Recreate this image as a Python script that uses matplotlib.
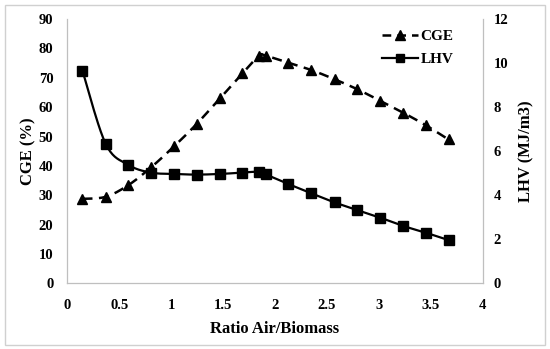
import numpy as np
import matplotlib
matplotlib.use("Agg")
import matplotlib.pyplot as plt
from matplotlib.patches import Rectangle
from matplotlib.lines import Line2D

ratio = [0.146, 0.370, 0.589, 0.806, 1.032, 1.246, 1.470, 1.687, 1.846, 1.910,
         2.130, 2.351, 2.573, 2.792, 3.011, 3.235, 3.454, 3.671]
cge = [28.8, 29.5, 33.5, 39.5, 46.8, 54.3, 63.0, 71.5, 77.5, 77.5,
       75.1, 72.6, 69.5, 66.1, 62.2, 58.1, 53.8, 49.0]
lhv = [9.65, 6.33, 5.38, 5.03, 4.97, 4.94, 4.97, 5.03, 5.07, 4.95,
       4.51, 4.09, 3.68, 3.33, 2.99, 2.61, 2.30, 1.97]

x_ticks = [0, 0.5, 1, 1.5, 2, 2.5, 3, 3.5, 4]
x_tick_labels = ["0", "0.5", "1", "1.5", "2", "2.5", "3", "3.5", "4"]
left_ticks = [0, 10, 20, 30, 40, 50, 60, 70, 80, 90]
right_ticks = [0, 2, 4, 6, 8, 10, 12]


def smooth(x, y, n=20):
    x = np.asarray(x, float); y = np.asarray(y, float)
    P = np.column_stack([x, y])
    P = np.vstack([P[0], P, P[-1]])
    out = []
    for i in range(1, len(P) - 2):
        p0, p1, p2, p3 = P[i - 1], P[i], P[i + 1], P[i + 2]
        t = np.linspace(0, 1, n, endpoint=False)[:, None]
        c = 0.5 * ((2 * p1) + (-p0 + p2) * t + (2 * p0 - 5 * p1 + 4 * p2 - p3) * t ** 2
                   + (-p0 + 3 * p1 - 3 * p2 + p3) * t ** 3)
        out.append(c)
    out.append(P[-2][None, :])
    out = np.vstack(out)
    return out[:, 0], out[:, 1]


plt.rcParams['font.family'] = ['Liberation Serif', 'DejaVu Serif']
plt.rcParams['font.weight'] = 'bold'

fig = plt.figure(figsize=(5.5, 3.49), dpi=100)
fig.patches.append(Rectangle((5 / 550, 4 / 349), 540 / 550, 340 / 349, transform=fig.transFigure,
                             fill=False, edgecolor='#d0d0d0', linewidth=1.0))
ax = fig.add_axes([0.1224, 0.1877, 0.7552, 0.7579])
ax2 = ax.twinx()

spine_c = '#bfbfbf'
for a in (ax, ax2):
    a.spines['top'].set_visible(False)
    for s in ('left', 'bottom', 'right'):
        a.spines[s].set_color(spine_c)
        a.spines[s].set_linewidth(0.9)
    a.tick_params(length=0, labelsize=10.5)
ax.spines['right'].set_visible(False)
ax2.spines['left'].set_visible(False)
ax2.spines['bottom'].set_visible(False)
ax.tick_params(axis='y', pad=10)
ax.tick_params(axis='x', pad=11)
ax2.tick_params(axis='y', pad=8)

sx, sy = smooth(ratio, cge)
ax.plot(sx, sy, color='black', lw=1.8, ls=(0, (4, 2.6)))
ax.plot(ratio, cge, ls='none', marker='^', ms=7.5, color='black')

lx, ly = smooth(ratio, lhv)
ax2.plot(lx, ly, color='black', lw=1.6)
ax2.plot(ratio, lhv, ls='none', marker='s', ms=7, color='black')

ax.set_xlim(0, 4)
ax.set_ylim(0, 90)
ax2.set_ylim(0, 12)
ax.set_xticks(x_ticks)
ax.set_xticklabels(x_tick_labels)
ax.set_yticks(left_ticks)
ax2.set_yticks(right_ticks)
for lab in ax.get_xticklabels() + ax.get_yticklabels() + ax2.get_yticklabels():
    lab.set_fontweight('bold')

ax.set_xlabel('Ratio Air/Biomass', fontsize=12, fontweight='bold', labelpad=7)
ax.set_ylabel('CGE (%)', fontsize=12, fontweight='bold', labelpad=2)
ax2.set_ylabel('LHV (MJ/m3)', fontsize=12, fontweight='bold', labelpad=7)

handles = [Line2D([], [], color='black', lw=1.8, ls=(0, (3.5, 2.4)), marker='^', ms=6.5),
           Line2D([], [], color='black', lw=1.6, marker='s', ms=6)]
leg = ax.legend(handles, ['CGE', 'LHV'], loc='upper right', bbox_to_anchor=(0.93, 0.96),
                borderaxespad=0, borderpad=0,
                frameon=False, handlelength=2.4, handletextpad=0.15,
                labelspacing=0.6, prop={'weight': 'bold', 'size': 11})

fig.savefig('out.png', dpi=100)
